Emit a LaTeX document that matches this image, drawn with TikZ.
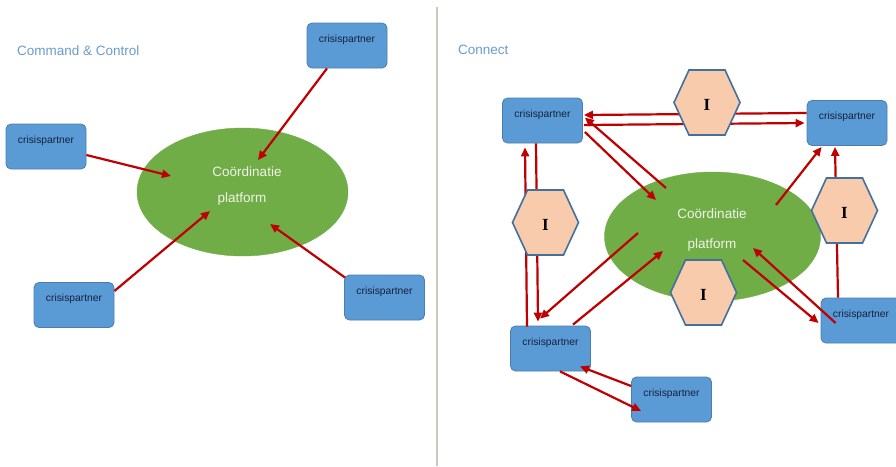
\documentclass[tikz,border=0pt]{standalone}
\usepackage{fontspec}
\setmainfont{Liberation Sans}
\newfontfamily\hexfont{Liberation Serif}
\usetikzlibrary{arrows.meta,calc,shapes.geometric}
\definecolor{boxfill}{HTML}{5B9BD5}
\definecolor{boxline}{HTML}{4A7EB0}
\definecolor{boxtext}{HTML}{14213D}
\definecolor{ellfill}{HTML}{70AD47}
\definecolor{elltext}{HTML}{EEF5E6}
\definecolor{arrred}{HTML}{C00000}
\definecolor{hexfill}{HTML}{F8CBAD}
\definecolor{hexline}{HTML}{41719C}
\definecolor{titlecol}{HTML}{6A9CCB}
\definecolor{divcol}{HTML}{CACABA}
\tikzset{
  pbox/.style={draw=boxline, line width=0.8pt, fill=boxfill, rounded corners=5pt,
    minimum width=80pt, minimum height=45pt, inner sep=0pt, text height=19pt, text depth=26pt,
    text=boxtext, font=\fontsize{10.3}{12}\selectfont},
  ell/.style={fill=ellfill, draw=ellfill},
  elltxt/.style={text=elltext, font=\fontsize{13.5}{15}\selectfont, inner sep=0pt},
  arr/.style={draw=arrred, line width=2.2pt, -{Triangle[length=9pt,width=8pt]}},
  hex/.style={fill=hexfill, draw=hexline, line width=1.6pt, line join=miter},
  hexlbl/.style={font=\hexfont\bfseries\fontsize{17}{18}\selectfont, inner sep=0pt},
  title/.style={text=titlecol, font=\fontsize{13.5}{15}\selectfont, anchor=west, inner sep=0pt}
}
\begin{document}
\begin{tikzpicture}[x=1pt,y=-1pt]
\useasboundingbox (0,0) rectangle (896,466);
\fill[white] (0,0) rectangle (896,466);
% divider
\coordinate (dtop) at (437,7);
\coordinate (dbot) at (437,466);
\draw[divcol, line width=2pt] (dtop) -- (dbot);

% ---------------- left panel ----------------
\node[title] (t1) at (17,51) {Command \& Control};
\node[ell, ellipse, minimum width=211pt, minimum height=128pt, inner sep=0pt] (le) at (242.5,192) {};
\node[elltxt] (le1t) at (247,172) {Coördinatie};
\node[elltxt] (le2t) at (242,199) {platform};

\node[pbox] (lt) at (347,45.5) {crisispartner};
\node[pbox] (ll) at (46,146.5) {crisispartner};
\node[pbox] (lb) at (74,305) {crisispartner};
\node[pbox] (lr) at (384.5,297.5) {crisispartner};

\coordinate (la) at (258,160);
\coordinate (lbb) at (171,176);
\coordinate (lc) at (210,211);
\coordinate (ld) at (270,224);
\draw[arr] ($(lt.south)+(-20,0)$) -- (la);
\draw[arr] ($(ll.east)+(0,8.5)$) -- (lbb);
\draw[arr] ($(lb.east)+(0,-14)$) -- (lc);
\draw[arr] ($(lr.north west)+(1,3)$) -- (ld);

% ---------------- right panel ----------------
\node[title] (t2) at (458,50) {Connect};
\node[ell, ellipse, minimum width=216pt, minimum height=129pt, inner sep=0pt] (re) at (712.5,236.5) {};
\node[elltxt] (re1t) at (712,214) {Coördinatie};
\node[elltxt] (re2t) at (712,245) {platform};

\node[pbox] (rtl) at (542.5,120.5) {crisispartner};
\node[pbox] (rtr) at (847,123) {crisispartner};
\node[pbox] (rbl) at (550.5,348.5) {crisispartner};
\node[pbox] (rr) at (861,320.5) {crisispartner};
\node[pbox] (rb) at (671.5,399.5) {crisispartner};

\coordinate (e3) at (666,188);
\coordinate (e4) at (656,200);
\coordinate (e5) at (776,205);
\coordinate (e7) at (743,260);
\coordinate (e8) at (753,248);
\coordinate (e11) at (638,233);
\coordinate (e12) at (663,251);

\draw[arr] ($(rtr.west)+(0,-10)$) -- ($(rtl.east)+(1,-5.5)$);
\draw[arr] ($(rtl.east)+(1,4.5)$) -- ($(rtr.west)+(-2,0)$);
\draw[arr] (e3) -- ($(rtl.east)+(2,-3)$);
\draw[arr] ($(rtl.east)+(2,11.5)$) -- (e4);
\draw[arr] (e5) -- ($(rtr.south west)+(15,1)$);
\draw[arr] ($(rr.north)+(-23,0)$) -- ($(rtr.south)+(-12,1)$);
\draw[arr] (e7) -- ($(rr.west)+(-2,2.5)$);
\draw[arr] ($(rr.west)+(15,2.5)$) -- (e8);
\draw[arr] ($(rbl.north)+(-23.5,1)$) -- ($(rtl.south)+(-17.5,4)$);
\draw[arr] ($(rtl.south)+(-6.5,0)$) -- ($(rbl.north)+(-12.5,-4)$);
\draw[arr] (e11) -- ($(rbl.north)+(-10.5,-7)$);
\draw[arr] ($(rbl.north)+(22.5,-1)$) -- (e12);
\draw[arr] ($(rb.west)+(0,-13.5)$) -- ($(rbl.south east)+(-11,-5)$);
\draw[arr] ($(rbl.south)+(9.5,0)$) -- ($(rb.west)+(10,11.5)$);

% hexagons
\coordinate (h1) at (707,102.5);
\coordinate (h2) at (545.5,222.5);
\coordinate (h3) at (844.5,210.5);
\coordinate (h4) at (703.5,292.5);
\foreach \h in {h1,h2,h3,h4}{
  \path[hex] (\h) ++(-33,0) -- ++(15,-32.5) -- ++(36,0) -- ++(15,32.5) -- ++(-15,32.5) -- ++(-36,0) -- cycle;
}
\node[hexlbl] (i1) at ($(h1)+(0,2)$) {I};
\node[hexlbl] (i2) at ($(h2)+(0,2)$) {I};
\node[hexlbl] (i3) at ($(h3)+(0,2)$) {I};
\node[hexlbl] (i4) at ($(h4)+(0,2)$) {I};
\end{tikzpicture}
\end{document}
